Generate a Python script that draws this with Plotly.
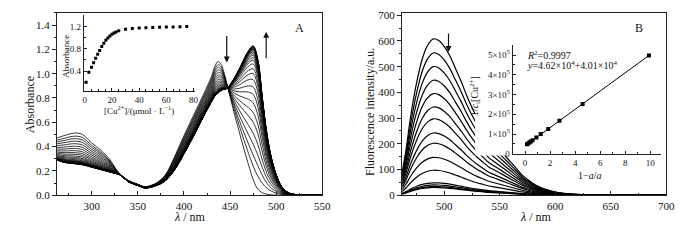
import plotly.graph_objects as go

W, H = 700, 240
FONT = "Liberation Serif"

# ---------------- Panel A : absorption titration ----------------
wl_A = [262, 270, 280, 285, 290, 300, 310, 320, 325, 330, 340, 350, 358, 370, 380,
        390, 400, 410, 420, 430, 434, 437, 440, 443, 447, 451, 455, 460, 465, 470,
        475, 480, 485, 490, 495, 500, 505, 510, 515, 520, 530, 550]
# spectrum without Cu2+ (first curve)
abs_initial = [0.47, 0.49, 0.51, 0.51, 0.50, 0.43, 0.37, 0.29, 0.23, 0.18, 0.12, 0.09, 0.07, 0.10, 0.17,
               0.32, 0.49, 0.65, 0.81, 0.98, 1.07, 1.10, 1.08, 1.02, 0.90, 0.78, 0.66, 0.52, 0.38, 0.25,
               0.13, 0.05, 0.02, 0.008, 0.003, 0.0, 0.0, 0.0, 0.0, 0.0, 0.0, 0.0]
# spectrum at saturation (last curve)
abs_final = [0.29, 0.27, 0.26, 0.255, 0.25, 0.23, 0.21, 0.19, 0.18, 0.17, 0.11, 0.08, 0.06, 0.08, 0.12,
             0.21, 0.34, 0.48, 0.63, 0.77, 0.82, 0.84, 0.86, 0.87, 0.88, 0.92, 0.97, 1.04, 1.12, 1.19,
             1.23, 1.12, 0.80, 0.50, 0.30, 0.17, 0.08, 0.035, 0.015, 0.006, 0.001, 0.0]
# absorbance at 475 nm for each recorded curve
abs_475 = [0.13, 0.24, 0.33, 0.42, 0.51, 0.60, 0.68, 0.76, 0.83, 0.89, 0.95, 1.00, 1.04, 1.08,
           1.11, 1.13, 1.15, 1.165, 1.18, 1.19, 1.20, 1.205, 1.21, 1.215, 1.22, 1.223, 1.226, 1.23]

# inset A
cu_conc = [1, 3, 5, 6.5, 8, 9.5, 11, 12.5, 14, 15.5, 17, 18.5, 20, 21.5, 23, 25,
           30, 35, 40, 45, 50, 55, 60, 65, 70, 75]
abs_inset = [0.20, 0.38, 0.47, 0.55, 0.63, 0.70, 0.77, 0.84, 0.90, 0.95, 0.99, 1.03, 1.06, 1.08, 1.10, 1.12,
             1.15, 1.16, 1.17, 1.175, 1.18, 1.185, 1.19, 1.19, 1.195, 1.20]

# ---------------- Panel B : fluorescence titration ----------------
wl_B = [462, 465, 470, 475, 480, 485, 490, 495, 500, 505, 510, 515, 520, 525, 530, 535, 540,
        545, 550, 555, 560, 565, 570, 575, 580, 585, 590, 600, 610, 625, 650, 700]
fl_profile = [0.15, 0.27, 0.52, 0.72, 0.87, 0.96, 1.0, 0.99, 0.95, 0.89, 0.81, 0.73, 0.64, 0.56, 0.49, 0.43, 0.37,
              0.33, 0.29, 0.25, 0.21, 0.17, 0.13, 0.10, 0.075, 0.055, 0.04, 0.02, 0.01, 0.004, 0.001, 0.0]
fl_peaks = [608, 553, 500, 447, 395, 343, 297, 242, 202, 147, 97, 48, 40, 34, 30]

# inset B
ratio_x = [0.15, 0.25, 0.35, 0.45, 0.6, 0.9, 1.25, 1.85, 2.75, 4.6, 9.9]
inv_conc = [4.8e4, 5.2e4, 5.7e4, 6.2e4, 6.9e4, 8.2e4, 1.0e5, 1.25e5, 1.67e5, 2.52e5, 4.98e5]
fit_x = [0.1, 9.9]
fit_y = [4.5e4, 4.98e5]

# ---------------- layout geometry (pixels) ----------------
A_box = (57, 326, 9.3, 199.5)
B_box = (407, 675, 9.3, 199.5)
iA_box = (84, 197, 11.7, 90.7)
iB_box = (519, 670, 43, 157)
A_xr, A_yr = [262.6, 550], [0, 1.5]
B_xr, B_yr = [462, 700], [0, 709]
iA_xr, iA_yr = [-0.7, 81.2], [0.045, 1.4]
iB_xr, iB_yr = [-1, 10.9], [-3400, 5.5e5]


def dom(box):
    x0, x1, y0, y1 = box
    return [x0 / W, x1 / W], [1 - y1 / H, 1 - y0 / H]


def px(x):
    return x / W


def py(y):
    return 1 - y / H


fig = go.Figure()

# Panel A curves
for a in abs_475:
    f = (a - abs_475[0]) / (abs_475[-1] - abs_475[0])
    ys = [(1 - f) * s0 + f * s1 for s0, s1 in zip(abs_initial, abs_final)]
    fig.add_trace(go.Scatter(x=wl_A, y=ys, mode="lines", line=dict(color="black", width=0.8, shape="spline"),
                             xaxis="x", yaxis="y", hoverinfo="skip"))

# Panel B curves
for p in fl_peaks:
    ys = [p * v for v in fl_profile]
    fig.add_trace(go.Scatter(x=wl_B, y=ys, mode="lines", line=dict(color="black", width=1.2, shape="spline"),
                             xaxis="x2", yaxis="y2", hoverinfo="skip"))

# white backing behind inset B (in main B data coordinates)
def bx(p):
    return B_xr[0] + (p - B_box[0]) / (B_box[1] - B_box[0]) * (B_xr[1] - B_xr[0])


def by(p):
    return B_yr[0] + (B_box[3] - p) / (B_box[3] - B_box[2]) * (B_yr[1] - B_yr[0])


mx0, mx1, my0, my1 = 481, 674, 38, 158
fig.add_trace(go.Scatter(x=[bx(mx0), bx(mx1), bx(mx1), bx(mx0), bx(mx0)],
                         y=[by(my1), by(my1), by(my0), by(my0), by(my1)],
                         fill="toself", fillcolor="white", mode="none",
                         xaxis="x2", yaxis="y2", hoverinfo="skip"))

# inset A
fig.add_trace(go.Scatter(x=cu_conc, y=abs_inset, mode="markers",
                         marker=dict(symbol="square", size=3, color="black"),
                         xaxis="x3", yaxis="y3", hoverinfo="skip"))
# inset B
fig.add_trace(go.Scatter(x=fit_x, y=fit_y, mode="lines", line=dict(color="black", width=1),
                         xaxis="x4", yaxis="y4", hoverinfo="skip"))
fig.add_trace(go.Scatter(x=ratio_x, y=inv_conc, mode="markers",
                         marker=dict(symbol="square", size=4, color="black"),
                         xaxis="x4", yaxis="y4", hoverinfo="skip"))

tickfont = dict(family=FONT, size=11, color="#111")
smallfont = dict(family=FONT, size=9, color="#111")

xa, ya = dom(A_box)
xb, yb = dom(B_box)
xia, yia = dom(iA_box)
xib, yib = dom(iB_box)

main_line = dict(showline=True, linecolor="#222", linewidth=1.3, mirror=True, showgrid=False, zeroline=False)
inset_line = dict(showline=True, linecolor="#222", linewidth=1, mirror=False, showgrid=False, zeroline=False)

fig.update_layout(
    width=W, height=H, margin=dict(l=0, r=0, t=0, b=0),
    paper_bgcolor="white", plot_bgcolor="rgba(0,0,0,0)", showlegend=False,
    xaxis=dict(domain=xa, range=A_xr, tickvals=[300, 350, 400, 450, 500, 550], ticks="inside", ticklen=4,
               tickcolor="#222", minor=dict(dtick=25, tick0=0, ticks="inside", ticklen=2, tickcolor="#222"),
               tickfont=tickfont, anchor="y", **main_line),
    yaxis=dict(domain=ya, range=A_yr, tickvals=[0, 0.2, 0.4, 0.6, 0.8, 1.0, 1.2, 1.4], tickformat=".1f",
               ticks="outside", ticklen=4, tickcolor="#222",
               minor=dict(dtick=0.1, tick0=0, ticks="outside", ticklen=2, tickcolor="#222"),
               tickfont=tickfont, anchor="x", **main_line),
    xaxis2=dict(domain=xb, range=B_xr, tickvals=[500, 550, 600, 650, 700], ticks="inside", ticklen=4,
                tickcolor="#222", minor=dict(dtick=25, tick0=0, ticks="inside", ticklen=2, tickcolor="#222"),
                tickfont=tickfont, anchor="y2", **main_line),
    yaxis2=dict(domain=yb, range=B_yr, tickvals=[0, 100, 200, 300, 400, 500, 600, 700],
                ticks="outside", ticklen=4, tickcolor="#222",
                minor=dict(dtick=50, tick0=0, ticks="outside", ticklen=2, tickcolor="#222"),
                tickfont=tickfont, anchor="x2", **main_line),
    xaxis3=dict(domain=xia, range=iA_xr, tickvals=[0, 20, 40, 60, 80], ticks="inside", ticklen=3,
                tickcolor="#222", minor=dict(dtick=5, tick0=0, ticks="inside", ticklen=2, tickcolor="#222"),
                tickfont=smallfont, anchor="y3", **inset_line),
    yaxis3=dict(domain=yia, range=iA_yr, tickvals=[0.4, 0.8, 1.2], tickformat=".1f", ticks="inside", ticklen=3,
                tickcolor="#222", minor=dict(dtick=0.2, tick0=0, ticks="inside", ticklen=2, tickcolor="#222"),
                tickfont=smallfont, anchor="x3", **inset_line),
    xaxis4=dict(domain=xib, range=iB_xr, tickvals=[0, 2, 4, 6, 8, 10], ticks="inside", ticklen=3,
                tickcolor="#222", minor=dict(dtick=1, tick0=0, ticks="inside", ticklen=2, tickcolor="#222"),
                tickfont=smallfont, anchor="y4", **inset_line),
    yaxis4=dict(domain=yib, range=iB_yr, tickvals=[0, 1e5, 2e5, 3e5, 4e5, 5e5],
                ticktext=["0", "1×10<sup>5</sup>", "2×10<sup>5</sup>", "3×10<sup>5</sup>",
                          "4×10<sup>5</sup>", "5×10<sup>5</sup>"],
                ticks="inside", ticklen=3, tickcolor="#222",
                minor=dict(dtick=5e4, tick0=0, ticks="inside", ticklen=2, tickcolor="#222"),
                tickfont=smallfont, anchor="x4", **inset_line),
)

ann = []


def text(x, y, s, size=12, angle=0, xanchor="center"):
    ann.append(dict(x=px(x), y=py(y), xref="paper", yref="paper", text=s, showarrow=False,
                    textangle=angle, xanchor=xanchor, yanchor="middle",
                    font=dict(family=FONT, size=size, color="#111")))


def arrow(x, y_tail, y_head):
    ann.append(dict(x=px(x), y=py(y_head), xref="paper", yref="paper", ax=0, ay=y_tail - y_head,
                    text="", showarrow=True, arrowhead=2, arrowsize=1, arrowwidth=1.2, arrowcolor="#111"))


text(192, 222, "<i>λ</i> / nm", 12)
text(543, 222, "<i>λ</i> / nm", 12)
text(29, 105, "Absorbance", 12, -90)
text(375, 113, "Fluorescence intensity/a.u.", 12, -90)
text(66, 55, "Absorbance", 9, -90)
text(140, 111, "[Cu<sup>2+</sup>]/(μmol · L<sup>−1</sup>)", 9)
text(481, 96, "1/<i>c</i><sub>i</sub>[Cu<sup>2+</sup>]", 10, -90)
text(597, 179, "1−<i>a</i>/<i>a</i>", 10)
text(532, 53, "<i>R</i><sup>2</sup>=0.9997", 10, 0, "left")
text(532, 64, "<i>y</i>=4.62×10<sup>4</sup>+4.01×10<sup>4</sup>", 10, 0, "left")
text(303, 25, "A", 12)
text(647, 25, "B", 12)
arrow(229, 33, 61)
arrow(269, 57, 29)
arrow(454, 30, 50)

fig.update_layout(annotations=ann)
fig.write_html("out.html", config={"displayModeBar": False},
               post_script="document.body.style.margin='0';document.body.style.padding='0';"
                           "document.body.style.overflow='hidden';")
